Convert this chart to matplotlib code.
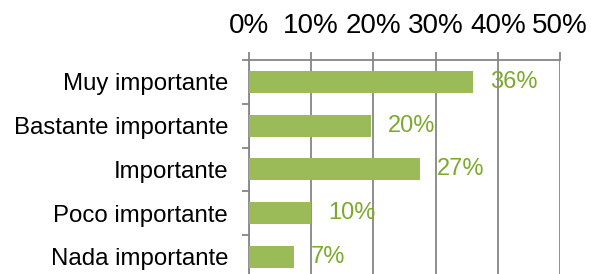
import matplotlib.pyplot as plt
import numpy as np

categories = ['Muy importante', 'Bastante importante', 'Importante',
              'Poco importante', 'Nada importante']
values = [0.36, 0.196, 0.275, 0.10, 0.072]
labels = ['36%', '20%', '27%', '10%', '7%']
xticks = [0, 0.1, 0.2, 0.3, 0.4, 0.5]

plt.rcParams['font.family'] = ['Liberation Sans', 'DejaVu Sans']

fig = plt.figure(figsize=(5.91, 2.74), dpi=100)
ax = fig.add_axes([249/591, 1 - 278.75/274, 311/591, 218.75/274])

grey = '#868686'
y = np.arange(len(categories))
ax.barh(y, values, height=0.5, color='#9BBB59', zorder=3)
for yi, v, lab in zip(y, values, labels):
    ax.annotate(lab, (v, yi), xytext=(12, 0), textcoords='offset points',
                va='center', ha='left', color='#7BAA2C', fontsize=17)

ax.set_xlim(0, 0.5)
ax.set_ylim(len(categories) - 0.5, -0.5)
ax.set_xticks(xticks)
ax.set_xticklabels([f'{int(t*100)}%' for t in xticks])
ax.xaxis.tick_top()
ax.tick_params(axis='x', direction='out', length=6, width=1.3, color=grey,
               labelsize=20, pad=9)
ax.grid(axis='x', color=grey, linewidth=1.3, zorder=0)

ax.set_yticks(y)
ax.set_yticklabels(categories)
ax.tick_params(axis='y', length=0, labelsize=17.3, pad=15)
ax.set_yticks(np.arange(-0.5, len(categories)), minor=True)
ax.tick_params(axis='y', which='minor', direction='out', length=5,
               width=1.3, color=grey)

for side in ['left', 'top']:
    ax.spines[side].set_color(grey)
    ax.spines[side].set_linewidth(1.3)
for side in ['right', 'bottom']:
    ax.spines[side].set_visible(False)

fig.savefig('out.png', dpi=100)
